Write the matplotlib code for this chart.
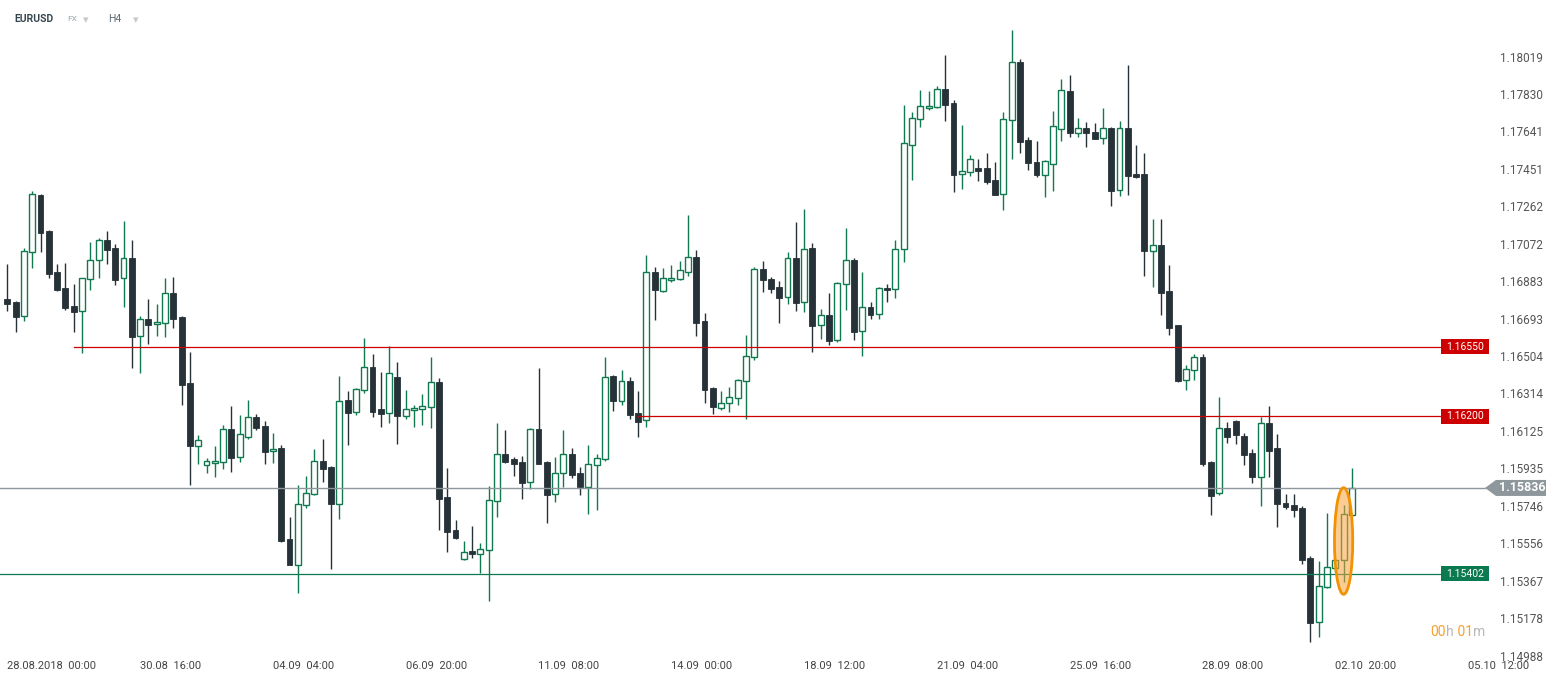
import numpy as np
import matplotlib.pyplot as plt
from matplotlib.patches import Ellipse, Polygon, Rectangle
from matplotlib.transforms import IdentityTransform

# EURUSD H4 candles, 28.08.2018 - 02.10.2018
opens = [
    1.16792, 1.16777, 1.16705, 1.17028, 1.17318, 1.17136, 1.16929, 1.16848, 1.16757, 1.16730,
    1.16892, 1.16988, 1.17089, 1.17050, 1.16897, 1.17000, 1.16603, 1.16689, 1.16664, 1.16669,
    1.16821, 1.16701, 1.16367, 1.16050, 1.15951, 1.15961, 1.15966, 1.16133, 1.15991, 1.16095,
    1.16194, 1.16148, 1.16021, 1.16038, 1.15576, 1.15445, 1.15748, 1.15804, 1.15971, 1.15942,
    1.15753, 1.16280, 1.16219, 1.16330, 1.16447, 1.16234, 1.16214, 1.16396, 1.16199, 1.16229,
    1.16234, 1.16244, 1.16371, 1.15789, 1.15622, 1.15475, 1.15517, 1.15500, 1.15520, 1.15768,
    1.16006, 1.15981, 1.15967, 1.15865, 1.16133, 1.15967, 1.15804, 1.15910, 1.16006, 1.15910,
    1.15841, 1.15951, 1.15981, 1.16401, 1.16274, 1.16376, 1.16214, 1.16178, 1.16927, 1.16834,
    1.16887, 1.16892, 1.16927, 1.17003, 1.16681, 1.16342, 1.16239, 1.16264, 1.16290, 1.16376,
    1.16497, 1.16942, 1.16892, 1.16851, 1.16801, 1.16998, 1.16775, 1.17049, 1.16659, 1.16710,
    1.16583, 1.16866, 1.16988, 1.16629, 1.16750, 1.16715, 1.16846, 1.16841, 1.17044, 1.17570,
    1.17701, 1.17757, 1.17762, 1.17853, 1.17782, 1.17423, 1.17433, 1.17455, 1.17455, 1.17393,
    1.17322, 1.17696, 1.17990, 1.17595, 1.17484, 1.17421, 1.17477, 1.17654, 1.17843, 1.17631,
    1.17656, 1.17636, 1.17605, 1.17656, 1.17342, 1.17656, 1.17425, 1.17425, 1.17033, 1.17065,
    1.16833, 1.16659, 1.16381, 1.16431, 1.16499, 1.15966, 1.15809, 1.16138, 1.16175, 1.16099,
    1.16013, 1.15890, 1.16163, 1.16038, 1.15760, 1.15750, 1.15735, 1.15480, 1.15156, 1.15333,
    1.15431, 1.15470, 1.15698,
]
highs = [
    1.16969, 1.16780, 1.17050, 1.17338, 1.17322, 1.17140, 1.16969, 1.16974, 1.16868, 1.16900,
    1.17081, 1.17101, 1.17136, 1.17069, 1.17187, 1.17091, 1.16706, 1.16792, 1.16767, 1.16898,
    1.16903, 1.16705, 1.16524, 1.16104, 1.15986, 1.16048, 1.16155, 1.16251, 1.16205, 1.16281,
    1.16210, 1.16175, 1.16113, 1.16053, 1.15689, 1.15851, 1.15896, 1.16033, 1.16084, 1.15946,
    1.16402, 1.16327, 1.16340, 1.16595, 1.16514, 1.16423, 1.16554, 1.16473, 1.16332, 1.16256,
    1.16311, 1.16499, 1.16392, 1.15937, 1.15674, 1.15568, 1.15643, 1.15557, 1.15846, 1.16165,
    1.16129, 1.15993, 1.15998, 1.16137, 1.16443, 1.15974, 1.15993, 1.16129, 1.16038, 1.15942,
    1.16053, 1.16008, 1.16499, 1.16405, 1.16433, 1.16399, 1.16327, 1.17015, 1.16954, 1.16949,
    1.16964, 1.16984, 1.17217, 1.17040, 1.16721, 1.16346, 1.16327, 1.16347, 1.16387, 1.16610,
    1.16954, 1.16984, 1.16903, 1.16883, 1.17028, 1.17182, 1.17247, 1.17075, 1.16742, 1.16822,
    1.16876, 1.17151, 1.16998, 1.16929, 1.16777, 1.16853, 1.16868, 1.17091, 1.17774, 1.17738,
    1.17850, 1.17845, 1.17870, 1.18027, 1.17799, 1.17673, 1.17521, 1.17501, 1.17531, 1.17485,
    1.17738, 1.18153, 1.18006, 1.17612, 1.17592, 1.17493, 1.17743, 1.17905, 1.17926, 1.17708,
    1.17688, 1.17683, 1.17759, 1.17660, 1.17693, 1.17976, 1.17571, 1.17531, 1.17195, 1.17195,
    1.16964, 1.16663, 1.16458, 1.16514, 1.16514, 1.15970, 1.16296, 1.16170, 1.16179, 1.16114,
    1.16033, 1.16194, 1.16251, 1.16109, 1.15807, 1.15807, 1.15746, 1.15492, 1.15466, 1.15711,
    1.15474, 1.15751, 1.15938,
]
lows = [
    1.16733, 1.16627, 1.16682, 1.16950, 1.17031, 1.16900, 1.16834, 1.16736, 1.16627, 1.16520,
    1.16839, 1.16900, 1.16971, 1.16864, 1.16753, 1.16444, 1.16419, 1.16566, 1.16606, 1.16601,
    1.16647, 1.16257, 1.15852, 1.15959, 1.15913, 1.15893, 1.15933, 1.15918, 1.15969, 1.16085,
    1.16129, 1.15957, 1.15964, 1.15565, 1.15444, 1.15306, 1.15736, 1.15800, 1.15868, 1.15427,
    1.15680, 1.16053, 1.16207, 1.16318, 1.16196, 1.16146, 1.16166, 1.16060, 1.16186, 1.16146,
    1.16156, 1.16141, 1.15623, 1.15513, 1.15580, 1.15470, 1.15483, 1.15404, 1.15265, 1.15690,
    1.15964, 1.15898, 1.15782, 1.15832, 1.15955, 1.15660, 1.15766, 1.15841, 1.15886, 1.15802,
    1.15706, 1.15726, 1.15974, 1.16227, 1.16257, 1.16186, 1.16095, 1.16146, 1.16687, 1.16830,
    1.16878, 1.16888, 1.16910, 1.16606, 1.16267, 1.16212, 1.16232, 1.16222, 1.16257, 1.16186,
    1.16482, 1.16829, 1.16824, 1.16672, 1.16768, 1.16733, 1.16728, 1.16525, 1.16591, 1.16561,
    1.16576, 1.16738, 1.16586, 1.16505, 1.16692, 1.16692, 1.16778, 1.16799, 1.16981, 1.17396,
    1.17664, 1.17748, 1.17758, 1.17694, 1.17334, 1.17350, 1.17416, 1.17391, 1.17374, 1.17316,
    1.17242, 1.17502, 1.17532, 1.17446, 1.17411, 1.17310, 1.17340, 1.17593, 1.17613, 1.17612,
    1.17563, 1.17600, 1.17578, 1.17264, 1.17313, 1.17320, 1.17406, 1.16910, 1.16854, 1.16713,
    1.16611, 1.16374, 1.16333, 1.16381, 1.15949, 1.15701, 1.15799, 1.16065, 1.16060, 1.15952,
    1.15863, 1.15746, 1.15890, 1.15640, 1.15731, 1.15690, 1.15451, 1.15056, 1.15083, 1.15330,
    1.15409, 1.15360, 1.15694,
]
closes = [
    1.16768, 1.16702, 1.17035, 1.17323, 1.17128, 1.16920, 1.16839, 1.16748, 1.16728, 1.16897,
    1.16988, 1.17089, 1.17042, 1.16890, 1.16998, 1.16601, 1.16689, 1.16662, 1.16674, 1.16821,
    1.16692, 1.16358, 1.16050, 1.16077, 1.15971, 1.15971, 1.16133, 1.15989, 1.16107, 1.16194,
    1.16141, 1.16019, 1.16032, 1.15569, 1.15448, 1.15753, 1.15809, 1.15971, 1.15933, 1.15753,
    1.16274, 1.16217, 1.16335, 1.16447, 1.16222, 1.16212, 1.16416, 1.16202, 1.16234, 1.16239,
    1.16249, 1.16371, 1.15782, 1.15615, 1.15584, 1.15513, 1.15500, 1.15526, 1.15774, 1.16006,
    1.15969, 1.15959, 1.15863, 1.16133, 1.15959, 1.15802, 1.15910, 1.16006, 1.15903, 1.15841,
    1.15956, 1.15986, 1.16396, 1.16278, 1.16376, 1.16207, 1.16171, 1.16927, 1.16839, 1.16897,
    1.16897, 1.16937, 1.17003, 1.16672, 1.16333, 1.16247, 1.16264, 1.16295, 1.16381, 1.16502,
    1.16942, 1.16890, 1.16844, 1.16799, 1.16998, 1.16773, 1.17044, 1.16657, 1.16710, 1.16581,
    1.16872, 1.16988, 1.16627, 1.16750, 1.16713, 1.16846, 1.16836, 1.17044, 1.17580, 1.17706,
    1.17767, 1.17767, 1.17853, 1.17775, 1.17421, 1.17438, 1.17499, 1.17441, 1.17386, 1.17320,
    1.17701, 1.17990, 1.17588, 1.17482, 1.17421, 1.17489, 1.17666, 1.17848, 1.17634, 1.17656,
    1.17634, 1.17603, 1.17656, 1.17340, 1.17656, 1.17416, 1.17411, 1.17037, 1.17064, 1.16824,
    1.16647, 1.16379, 1.16436, 1.16497, 1.15959, 1.15797, 1.16138, 1.16095, 1.16105, 1.16004,
    1.15890, 1.16163, 1.16025, 1.15753, 1.15741, 1.15726, 1.15473, 1.15154, 1.15338, 1.15434,
    1.15470, 1.15703, 1.15836,
]

date_labels = ['28.08.2018  00:00', '30.08  16:00', '04.09  04:00', '06.09  20:00',
               '11.09  08:00', '14.09  00:00', '18.09  12:00', '21.09  04:00',
               '25.09  16:00', '28.09  08:00', '02.10  20:00', '05.10  12:00']
date_idx = [0, 16, 32, 48, 64, 80, 96, 112, 128, 144, 160, 176]

price_ticks = [1.18019, 1.17830, 1.17641, 1.17451, 1.17262, 1.17072, 1.16883, 1.16693,
               1.16504, 1.16314, 1.16125, 1.15935, 1.15746, 1.15556, 1.15367, 1.15178, 1.14988]

# horizontal levels: price, first candle, colour
levels = [1.16550, 1.16200, 1.15402]
level_start = [8, 76, None]
level_colors = ['#cc0000', '#cc0000', '#0b7a50']
last_price = 1.15836
marked_candle = 161

BULL = '#10794f'
BEAR = '#263238'
W, H = 1557, 679


def draw_candles(ax):
    o, h, l, c = map(np.array, (opens, highs, lows, closes))
    x = np.arange(len(o))
    up = c >= o
    ax.vlines(x, l, h, colors=np.where(up, BULL, BEAR), lw=1.0, zorder=2)
    bottom = np.minimum(o, c)
    height = np.maximum(np.abs(c - o), 0.00004)
    ax.bar(x[up], height[up], 0.7, bottom[up], facecolor='white',
           edgecolor=BULL, lw=1.0, zorder=3)
    ax.bar(x[~up], height[~up], 0.7, bottom[~up], facecolor=BEAR,
           edgecolor=BEAR, lw=0.6, zorder=3)


def main():
    plt.rcParams['font.family'] = ['Roboto', 'DejaVu Sans']
    fig = plt.figure(figsize=(W / 100, H / 100), dpi=100)
    ax_h = 658
    ax = fig.add_axes([0, (H - ax_h) / H, 1490 / W, ax_h / H])

    # 8.3 px per candle, first candle 7.3 px from the left edge
    ax.set_xlim(-7.3 / 8.3, (1490 - 7.3) / 8.3)
    ax.set_ylim(1.18305 - ax_h * 0.0000506, 1.18305)

    draw_candles(ax)

    px = lambda xd, yd: ax.transData.transform((xd, yd))
    x_left = ax.get_xlim()[0]
    x_span = np.diff(ax.get_xlim())[0]
    x_box = x_left + (1441 / 1490) * x_span
    x_tip = x_left + (1485 / 1490) * x_span

    # support / resistance levels with price boxes
    for lvl, start, col in zip(levels, level_start, level_colors):
        x0 = x_left if start is None else start
        ax.plot([x0, x_box], [lvl, lvl], color=col, lw=0.9, zorder=4)
        bx, by = px(x_box, lvl)
        ax.add_patch(Rectangle((bx, by - 7.5), 48, 15, transform=IdentityTransform(),
                               facecolor=col, edgecolor='none', clip_on=False, zorder=6))
        ax.text(bx + 24, by, f'{lvl:.5f}', transform=IdentityTransform(), ha='center',
                va='center', color='white', fontsize=7.5, zorder=7, clip_on=False)

    # current price line and arrow label
    ax.plot([x_left, x_tip], [last_price, last_price], color='#8d979c', lw=1.0, zorder=4)
    tx, ty = px(x_tip, last_price)
    ax.add_patch(Polygon([(tx, ty), (tx + 11, ty + 8), (tx + 61, ty + 8), (tx + 61, ty - 8),
                          (tx + 11, ty - 8)], closed=True, transform=IdentityTransform(),
                         facecolor='#8d979c', edgecolor='none', clip_on=False, zorder=8))
    ax.text(tx + 37, ty, f'{last_price:.5f}', transform=IdentityTransform(), ha='center',
            va='center', color='white', fontsize=9, fontweight='bold', zorder=9, clip_on=False)

    # highlighted candle
    lo, hi = lows[marked_candle], highs[marked_candle]
    centre = (marked_candle, (lo + hi) / 2 + 0.00012)
    ax.add_patch(Ellipse(centre, 2.2, (hi - lo) * 1.38, facecolor='#f8a23c',
                         alpha=0.55, edgecolor='none', zorder=5))
    ax.add_patch(Ellipse(centre, 2.2, (hi - lo) * 1.38, facecolor='none',
                         edgecolor='#f39200', lw=2, zorder=5))

    # axes styling
    for s in ax.spines.values():
        s.set_visible(False)
    ax.yaxis.tick_right()
    ax.set_yticks(price_ticks, [f'{p:.5f}' for p in price_ticks])
    ax.tick_params(axis='y', length=0, pad=7, labelsize=8.5, labelcolor='#555555')
    ax.set_xticks(date_idx, date_labels, ha='left')
    ax.tick_params(axis='x', length=0, pad=2, labelsize=8, labelcolor='#444444')

    # header
    fig.text(14 / W, 1 - 19 / H, 'EURUSD', fontsize=7.5, fontweight='bold',
             color='#37474f', va='center')
    fig.text(67 / W, 1 - 19 / H, 'FX', fontsize=6, color='#9aa5ab', va='center')
    fig.text(83 / W, 1 - 20 / H, '\u25be', fontsize=8, color='#c5c9cc', va='center',
             family='DejaVu Sans')
    fig.text(108 / W, 1 - 19 / H, 'H4', fontsize=7.5, color='#5f6b72', va='center')
    fig.text(133 / W, 1 - 20 / H, '\u25be', fontsize=8, color='#c5c9cc', va='center',
             family='DejaVu Sans')

    # candle timer, each piece chained to the previous one
    t = fig.text(1430.5 / W, 1 - 632.5 / H, '00', fontsize=10, color='#f5a030', va='center')
    for piece, col in (('h', '#b8b8b8'), (' 01', '#f5a030'), ('m', '#b8b8b8')):
        t = ax.annotate(piece, xy=(1, 0), xycoords=t, va='bottom', ha='left',
                        fontsize=10, color=col, annotation_clip=False)

    plt.savefig('out.png', dpi=100, facecolor='white')


if __name__ == '__main__':
    main()
